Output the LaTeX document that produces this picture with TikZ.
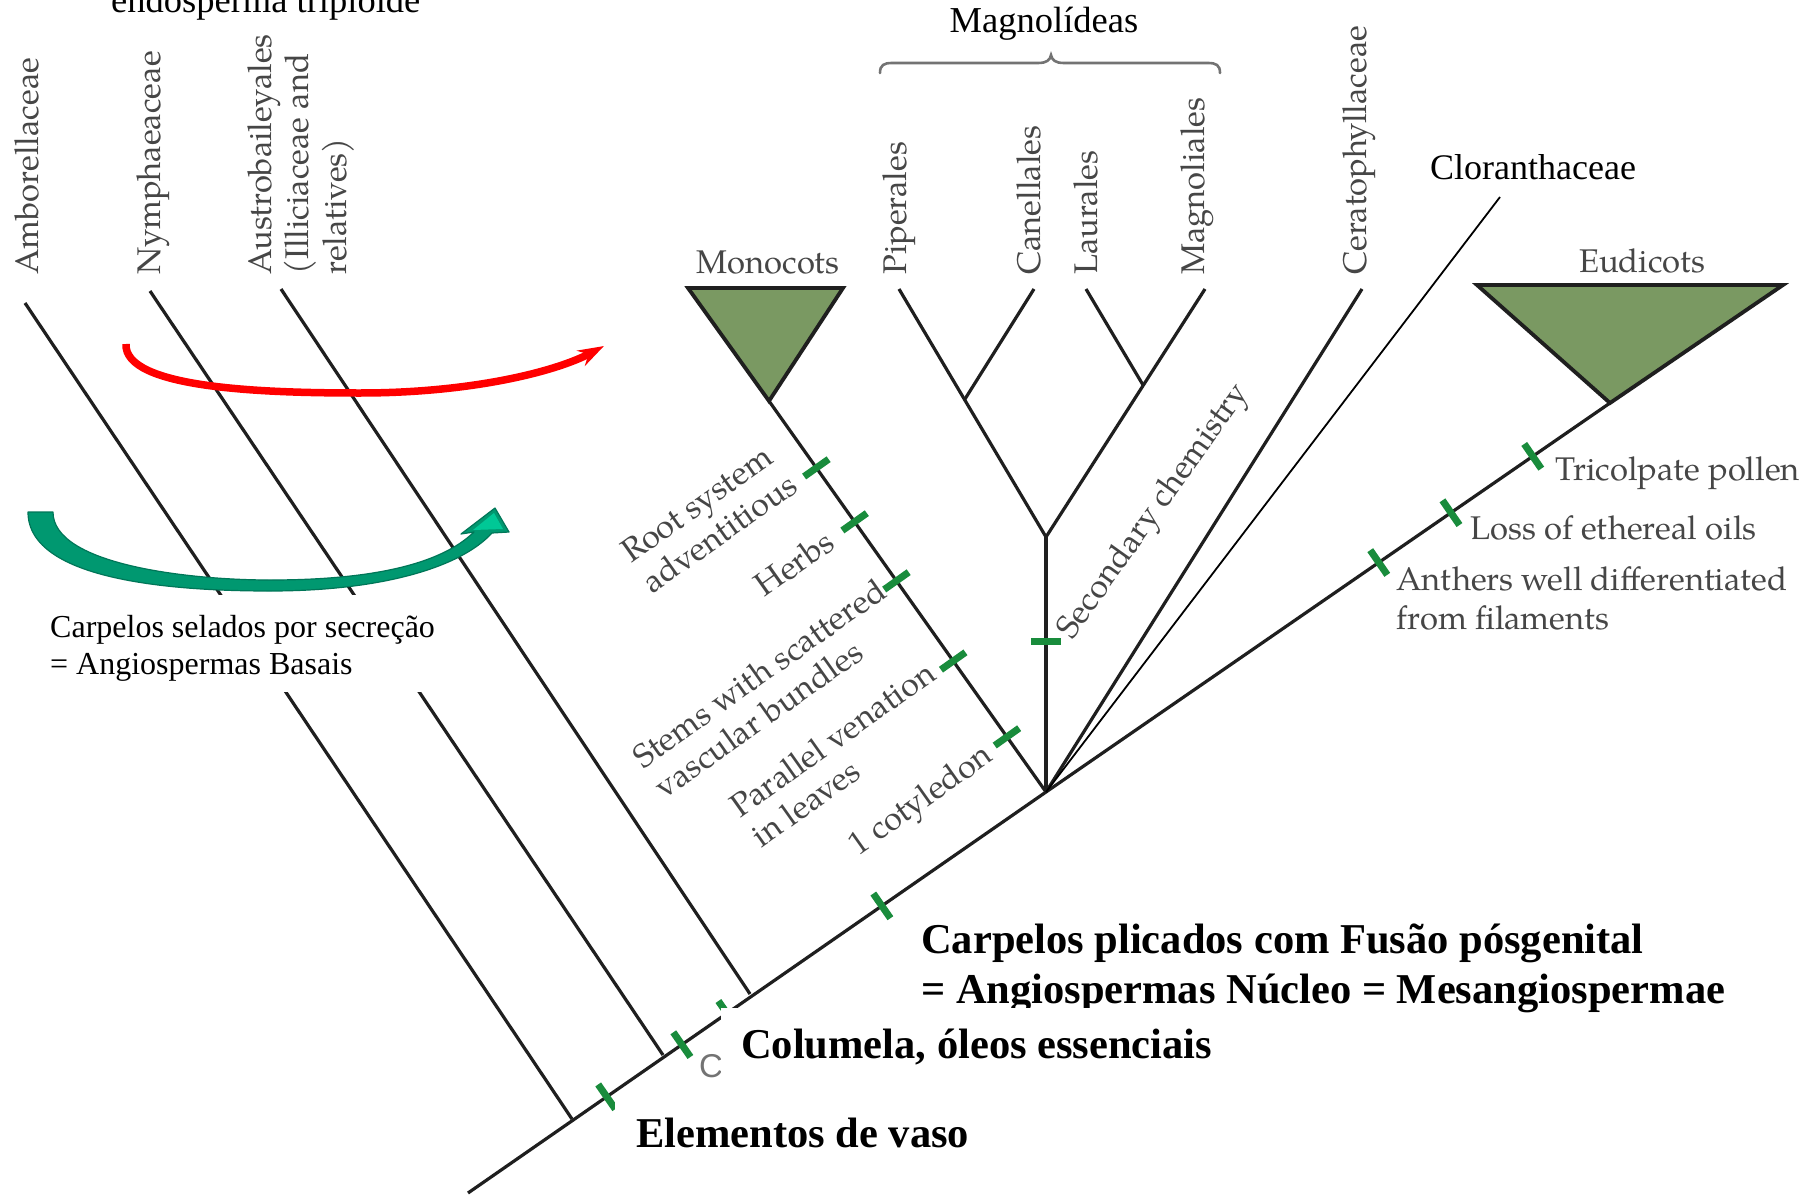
\documentclass[tikz,border=0pt]{standalone}
\usepackage{fontspec}
\setmainfont{Liberation Serif}
\newfontfamily\palfont{texgyrepagella-regular.otf}
\newfontfamily\grsans{Liberation Sans}
\usetikzlibrary{arrows.meta,calc}

\definecolor{clade}{RGB}{122,153,98}
\definecolor{tickgreen}{RGB}{25,140,60}
\definecolor{labelgray}{RGB}{70,70,70}
\definecolor{arrowteal}{RGB}{0,152,112}
\definecolor{arrowtealdark}{RGB}{0,118,88}
\definecolor{arrowteallight}{RGB}{0,200,150}

\begin{document}
\begin{tikzpicture}[x=1pt,y=-1pt,
  branch/.style={line width=3.2pt, draw=black!88},
  thinbranch/.style={line width=1.8pt, draw=black},
  cladefill/.style={fill=clade, draw=black!88, line width=3.8pt, line join=miter},
  tickmark/.style={line width=7pt, draw=tickgreen},
  taxon/.style={font=\palfont\fontsize{32.8}{37}\selectfont, text=labelgray, inner sep=0pt},
  vtaxon/.style={taxon, rotate=90, anchor=base west},
  trait/.style={taxon, align=left},
  note/.style={font=\fontsize{32}{36}\selectfont, inner sep=0pt, text=black, anchor=base west},
  bignote/.style={font=\bfseries\fontsize{42.5}{50}\selectfont, inner sep=0pt, text=black, anchor=base west},
  mask/.style={fill=white, draw=none},
]
\useasboundingbox (0,0) rectangle (1812,1196);
\clip (0,0) rectangle (1812,1196);
\fill[white] (0,0) rectangle (1812,1196);

% ---- tree skeleton ----
\coordinate (root) at (468,1193);
\coordinate (jAmb) at (572,1119);
\coordinate (jNym) at (663,1055);
\coordinate (jAus) at (750,994);
\coordinate (jCore) at (1046,792);
\coordinate (jEud) at (1610,403);
\coordinate (tAmb) at (25,303);
\coordinate (tNym) at (150,291);
\coordinate (tAus) at (281,289);
\coordinate (jMon) at (769,401);
\coordinate (mL) at (688,288);
\coordinate (mR) at (843,288);
\coordinate (jMag) at (1046,537);
\coordinate (tPip) at (899,289);
\coordinate (jCan) at (965,399);
\coordinate (tCan) at (1034,289);
\coordinate (jLau) at (1143,385);
\coordinate (tLau) at (1086,289);
\coordinate (tMgl) at (1205,289);
\coordinate (tCer) at (1362,289);
\coordinate (tClo) at (1500,197);
\coordinate (eL) at (1477,285);
\coordinate (eR) at (1783,285);

\draw[branch] (root) -- (jCore) -- (jEud);
\draw[branch] (tAmb) -- (jAmb);
\draw[branch] (tNym) -- (jNym);
\draw[branch] (tAus) -- (jAus);
\draw[branch] (jMon) -- (jCore);
\draw[branch] (jCore) -- (jMag);
\draw[branch, line join=miter] (tPip) -- (jMag) -- (tMgl);
\draw[branch] (jCan) -- (tCan);
\draw[branch] (jLau) -- (tLau);
\draw[branch] (jCore) -- (tCer);
\draw[thinbranch] (jCore) -- (tClo);

\filldraw[cladefill] (jMon) -- (mL) -- (mR) -- cycle;
\filldraw[cladefill] (jEud) -- (eL) -- (eR) -- cycle;

% ---- character ticks ----
\foreach \p/\n in {0.171/m1,0.309/m2,0.460/m3,0.665/m4,0.859/m5}{
  \coordinate (\n) at ($(jMon)!\p!(jCore)$);
  \draw[tickmark] ($(\n)!15pt!90:(jCore)$) -- ($(\n)!15pt!-90:(jCore)$);
}
\foreach \p/\n in {0.590/e1,0.718/e2,0.863/e3}{
  \coordinate (\n) at ($(jCore)!\p!(jEud)$);
  \draw[tickmark] ($(\n)!15pt!90:(jEud)$) -- ($(\n)!15pt!-90:(jEud)$);
}
\foreach \p/\n in {0.240/b1,0.370/b2,0.448/b3,0.716/b4}{
  \coordinate (\n) at ($(root)!\p!(jCore)$);
  \draw[tickmark] ($(\n)!15pt!90:(jCore)$) -- ($(\n)!15pt!-90:(jCore)$);
}
\coordinate (s1) at (1046,641);
\draw[tickmark] ($(s1)+(-15,0)$) -- ($(s1)+(15,0)$);

% ---- taxon names ----
\node[vtaxon] (lAmb) at (38,275) {Amborellaceae};
\node[vtaxon] (lNym) at (160,275) {Nymphaeaceae};
\node[vtaxon] (lAus1) at (271,275) {Austrobaileyales};
\node[vtaxon] (lAus2) at (308,275) {(Illiciaceae and};
\node[vtaxon] (lAus3) at (346,275) {relatives)};
\node[vtaxon] (lPip) at (906,275) {Piperales};
\node[vtaxon] (lCan) at (1040,275) {Canellales};
\node[vtaxon] (lLau) at (1097,275) {Laurales};
\node[vtaxon] (lMgl) at (1204,275) {Magnoliales};
\node[vtaxon] (lCer) at (1366,275) {Ceratophyllaceae};
\node[taxon, anchor=base] (lMon) at (768,273) {Monocots};
\node[taxon, anchor=base] (lEud) at (1642,272) {Eudicots};

% ---- characters ----
\node[trait, rotate=35.3] (cRoot) at (709,518) {Root system\\adventitious};
\node[trait, rotate=35.3] (cHerb) at (794,563) {Herbs};
\node[trait, rotate=35.3] (cStem) at (770,688) {Stems with scattered\\vascular bundles};
\node[trait, rotate=35.3] (cVen) at (843,754) {Parallel venation\\in leaves};
\node[trait, rotate=35.3] (cCot) at (922,802) {1 cotyledon};
\node[taxon, rotate=54.5] (cSec) at (1155,512) {Secondary chemistry};
\node[taxon, anchor=base west] (cTri) at (1555,480) {Tricolpate pollen};
\node[taxon, anchor=base west] (cOil) at (1470,539) {Loss of ethereal oils};
\node[taxon, anchor=base west] (cAnt1) at (1396,590) {Anthers well differentiated};
\node[taxon, anchor=base west] (cAnt2) at (1396,629) {from filaments};

% ---- Magnoliids brace ----
\coordinate (brL) at (880,73);
\coordinate (brM) at (1051,55);
\coordinate (brR) at (1220,73);
\draw[line width=2.6pt, draw=black!55, line cap=round]
  (brL) .. controls (880,65) and (884,63) .. (892,63) -- (1038,63)
  .. controls (1047,63) and (1050,60) .. (brM)
  .. controls (1052,60) and (1055,63) .. (1064,63) -- (1208,63)
  .. controls (1216,63) and (1220,65) .. (brR);
\node[note, anchor=base, font=\fontsize{36.5}{40}\selectfont] (lMagn) at (1044,33) {Magnolídeas};
\node[note, font=\fontsize{36}{40}\selectfont] (lClo) at (1430,179) {Cloranthaceae};
\node[note, font=\fontsize{36.5}{40}\selectfont] (lEndo) at (111,13) {endosperma triploide};

% ---- arrows ----
\coordinate (rS) at (126,344);
\coordinate (rE) at (604,346);
\draw[line width=7.5pt, draw={rgb,255:red,255;green,0;blue,0}, -{Stealth[length=26pt,width=17pt]}]
  (rS) .. controls (124,388) and (260,393) .. (360,393)
  .. controls (470,393) and (555,372) .. (rE);

\coordinate (gS) at (28,512);
\coordinate (gTip) at (495,508);
\fill[arrowteal, draw=arrowtealdark, line width=1.2pt, line join=round]
  (gS) -- (53,512) .. controls (53,565) and (190,580) .. (270,580)
  .. controls (370,580) and (440,565) .. (474,532)
  -- (461,534) -- (gTip) -- (509,532) -- (492,533)
  .. controls (460,568) and (380,591) .. (270,591)
  .. controls (180,591) and (28,582) .. (gS) -- cycle;
\fill[arrowteallight] (473,530) -- (494,513) -- (503,529) -- cycle;

% ---- Portuguese annotations ----
\fill[mask] (0,595) rectangle (452,692);
\node[note] (nBas1) at (50,637) {Carpelos selados por secreção};
\node[note] (nBas2) at (50,674) {= Angiospermas Basais};

\node[bignote] (nMes1) at (921,953) {Carpelos plicados com Fusão pósgenital};
\node[bignote] (nMes2) at (921,1003) {= Angiospermas Núcleo = Mesangiospermae};

\node[font=\grsans\fontsize{33}{33}\selectfont, text=black!55, anchor=base west, inner sep=0pt] (cRest) at (699,1077) {C};
\fill[mask] (721,1008) rectangle (1228,1078);
\node[bignote] (nCol) at (741,1058) {Columela, óleos essenciais};

\fill[mask] (615,1098) rectangle (1000,1196);
\node[bignote] (nVas) at (636,1147) {Elementos de vaso};
\end{tikzpicture}
\end{document}
